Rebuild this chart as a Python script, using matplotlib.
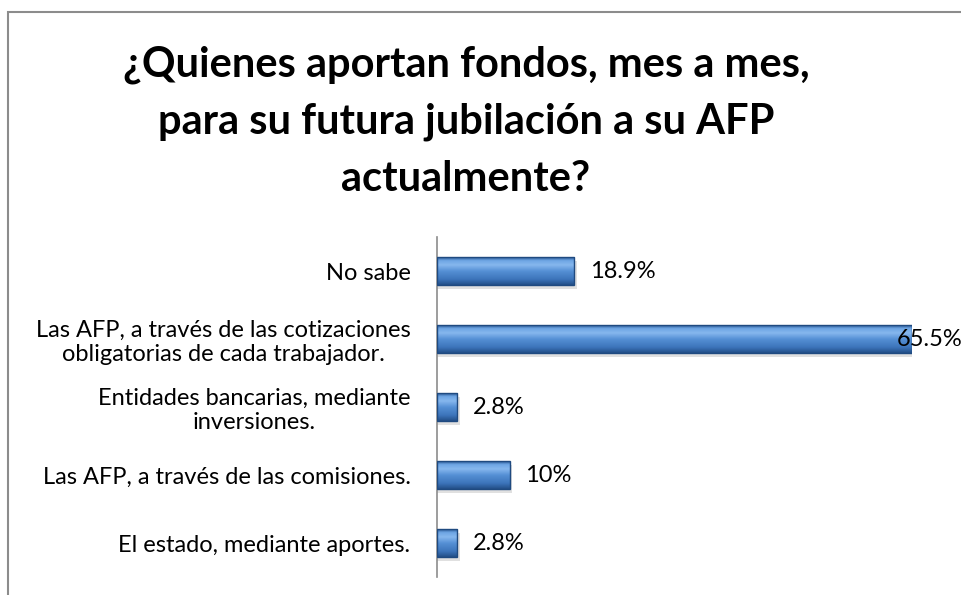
import matplotlib
matplotlib.use('Agg')
import matplotlib.pyplot as plt
from matplotlib.colors import LinearSegmentedColormap
from matplotlib.patches import Rectangle
import numpy as np

# Data (bottom to top, as drawn)
categories = ['El estado, mediante aportes.',
              'Las AFP, a través de las comisiones.',
              'Entidades bancarias, mediante\ninversiones.',
              'Las AFP, a través de las cotizaciones\nobligatorias de cada trabajador.',
              'No sabe']
values = [2.8, 10.0, 2.8, 65.5, 18.9]
labels = ['2.8%', '10%', '2.8%', '65.5%', '18.9%']
title = '¿Quienes aportan fondos, mes a mes,\npara su futura jubilación a su AFP\nactualmente?'

plt.rcParams['font.family'] = ['Lato', 'DejaVu Sans']

W, H = 962, 595
fig = plt.figure(figsize=(W / 100, H / 100), dpi=100)

# Outer frame of the chart area (cut at right and bottom)
fig.patches.append(Rectangle((8 / W, -0.05), 1.2, 1 - 12 / H + 0.05,
                             transform=fig.transFigure, fill=False,
                             edgecolor='#8c8c8c', linewidth=1.5))

fig.text(466 / W, 1 - 122 / H, title, ha='center', va='center',
         fontsize=30, fontweight='bold', linespacing=1.6)

ax = fig.add_axes([437 / W, 1 - 577 / H, (912 - 437) / W, (577 - 237) / H])
y = np.arange(len(values))
ax.set_xlim(0, max(values))
ax.set_ylim(-0.5, len(values) - 0.5)

# Bevelled blue bars, faked with a vertical gradient
cmap = LinearSegmentedColormap.from_list('bevel', [
    (0.0, '#2b5d99'), (0.12, '#6fa6e4'), (0.28, '#86b7ee'),
    (0.5, '#5590d5'), (0.8, '#3c74ba'), (1.0, '#234f88')])
grad = np.linspace(0, 1, 64).reshape(-1, 1)
h = 0.4
for yi, v in zip(y, values):
    # soft shadow
    ax.add_patch(Rectangle((0, yi - h / 2 - 0.06), v + 0.4, h,
                           facecolor='#000000', alpha=0.12, linewidth=0, zorder=1))
    ax.imshow(grad, cmap=cmap, aspect='auto', origin='upper',
              extent=(0, v, yi - h / 2, yi + h / 2), zorder=2)
    ax.add_patch(Rectangle((0, yi - h / 2), v, h, fill=False,
                           edgecolor='#1f4a80', linewidth=1, zorder=3))

# Value labels (the longest bar's label sits over the bar end, as in the original)
for yi, v, lab in zip(y, values, labels):
    if v == max(values):
        ax.annotate(lab, (v, yi), xytext=(-11, 0), textcoords='offset points',
                    ha='left', va='center', fontsize=17, zorder=4,
                    annotation_clip=False)
    else:
        ax.annotate(lab, (v, yi), xytext=(11.5, 0), textcoords='offset points',
                    ha='left', va='center', fontsize=17, zorder=4)

ax.set_yticks(y)
ax.set_yticklabels(categories, fontsize=17, linespacing=1.2)
ax.tick_params(axis='y', length=0, pad=19)
ax.set_xticks([])
for s in ['top', 'right', 'bottom']:
    ax.spines[s].set_visible(False)
ax.spines['left'].set_color('#8c8c8c')
ax.spines['left'].set_linewidth(1.2)
for t in ax.get_yticklabels():
    t.set_multialignment('center')

fig.savefig('out.png', dpi=100)
